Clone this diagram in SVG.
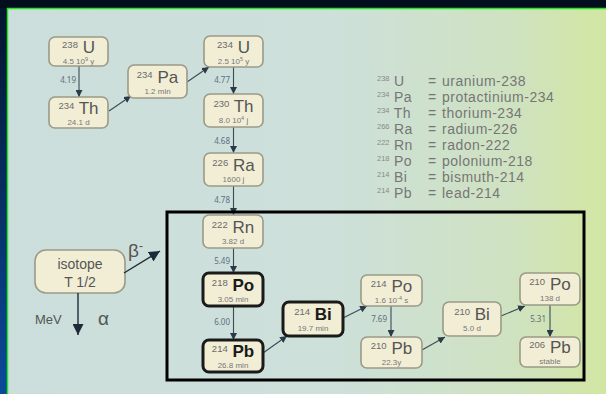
<svg xmlns="http://www.w3.org/2000/svg" width="606" height="394" viewBox="0 0 606 394">
<defs>
<linearGradient id="bg" x1="0" y1="0" x2="1" y2="0">
<stop offset="0" stop-color="#cbdedb"/>
<stop offset="0.55" stop-color="#cde0da"/>
<stop offset="0.85" stop-color="#cfe2c0"/>
<stop offset="1" stop-color="#d2e6a2"/>
</linearGradient>
<linearGradient id="side" x1="0" y1="0" x2="0" y2="1">
<stop offset="0" stop-color="#03132b"/>
<stop offset="1" stop-color="#0b4a9a"/>
</linearGradient>
<marker id="ah" viewBox="0 0 10 10" refX="10" refY="5" markerWidth="7" markerHeight="7" markerUnits="userSpaceOnUse" orient="auto">
<path d="M0,0 L10,5 L0,10 z" fill="#2b3a47"/>
</marker>
<marker id="ahL" viewBox="0 0 10 10" refX="10" refY="5" markerWidth="11" markerHeight="11" markerUnits="userSpaceOnUse" orient="auto">
<path d="M0,0 L10,5 L0,10 z" fill="#1f2a38"/>
</marker>
</defs>
<style>
.node rect{fill:#f2eed5;stroke:#9a9a88;stroke-width:1.6}
.node.bold rect{stroke:#1a1a1a;stroke-width:3}
text{font-family:"Noto Sans","Open Sans","Liberation Sans",sans-serif}
.node text{font-family:"Liberation Sans",Arial,sans-serif}
.t1{text-anchor:middle;fill:#555}
.sup{font-size:9.5px;fill:#6a6a6a}
.sym{font-size:17px;fill:#555}
.bold .sym{font-weight:bold;fill:#1a1a1a}
.t2{text-anchor:middle;font-size:8px;fill:#777}
.s2{font-size:5.5px}
.en{text-anchor:end;font-size:8px;fill:#5e6e82}
.conn line{stroke:#3c4a56;stroke-width:1.1;marker-end:url(#ah)}
.leg{font-family:"Liberation Sans",Arial,sans-serif;font-size:14px;fill:#767676;letter-spacing:0.5px}
.legs{font-size:7.5px;fill:#8a8a8a;letter-spacing:0}
</style>
<rect x="0" y="0" width="606" height="394" fill="url(#bg)"/>
<rect x="0" y="0" width="606" height="8" fill="#020e1e"/>
<rect x="0" y="0" width="7" height="394" fill="url(#side)"/>
<rect x="0" y="0" width="7" height="8" fill="#020e1e"/>
<line x1="7" y1="8.5" x2="606" y2="8.5" stroke="#22e622" stroke-width="1.5"/>
<line x1="7.5" y1="8" x2="7.5" y2="394" stroke="#22e622" stroke-width="1.5"/>

<g id="connectors" class="conn">
<line x1="79" y1="66" x2="79" y2="97"/>
<line x1="109" y1="111" x2="131" y2="96"/>
<line x1="187" y1="82" x2="209" y2="67"/>
<line x1="233.5" y1="67" x2="233.5" y2="94"/>
<line x1="233.5" y1="127" x2="233.5" y2="153"/>
<line x1="233.5" y1="186" x2="233.5" y2="215"/>
<line x1="233.5" y1="248" x2="233.5" y2="273"/>
<line x1="233.5" y1="306" x2="233.5" y2="340"/>
<line x1="263" y1="353" x2="287" y2="336"/>
<line x1="343" y1="318" x2="367" y2="306"/>
<line x1="391" y1="306" x2="391" y2="337"/>
<line x1="422" y1="350" x2="445" y2="337"/>
<line x1="501" y1="316" x2="525" y2="306"/>
<line x1="550" y1="305" x2="550" y2="337"/>
</g>

<g id="energies">
<text class="en" x="76" y="83">4.19</text>
<text class="en" x="230" y="83">4.77</text>
<text class="en" x="230" y="144">4.68</text>
<text class="en" x="230" y="203">4.78</text>
<text class="en" x="230" y="264">5.49</text>
<text class="en" x="230" y="325">6.00</text>
<text class="en" x="387" y="322">7.69</text>
<text class="en" x="546" y="322">5.31</text>
</g>

<g id="n-u238" class="node"><rect x="49" y="37" width="59" height="29" rx="6"/><text class="t1" x="78.5" y="52.5"><tspan class="sup" dy="-5">238</tspan><tspan class="sym" dy="5"> U</tspan></text><text class="t2" x="78.5" y="63.5">4.5  10<tspan class="s2" dy="-3">9</tspan><tspan dy="3"> y</tspan></text></g>
<g id="n-th234" class="node"><rect x="49" y="97" width="59" height="31" rx="6"/><text class="t1" x="78.5" y="113.5"><tspan class="sup" dy="-5">234</tspan><tspan class="sym" dy="5"> Th</tspan></text><text class="t2" x="78.5" y="124.5">24.1 d</text></g>
<g id="n-pa234" class="node"><rect x="128" y="65" width="59" height="33" rx="6"/><text class="t1" x="157.5" y="82.5"><tspan class="sup" dy="-5">234</tspan><tspan class="sym" dy="5"> Pa</tspan></text><text class="t2" x="157.5" y="93.5">1.2 min</text></g>
<g id="n-u234" class="node"><rect x="204" y="36" width="59" height="31" rx="6"/><text class="t1" x="233.5" y="52.5"><tspan class="sup" dy="-5">234</tspan><tspan class="sym" dy="5"> U</tspan></text><text class="t2" x="233.5" y="63.5">2.5  10<tspan class="s2" dy="-3">5</tspan><tspan dy="3"> y</tspan></text></g>
<g id="n-th230" class="node"><rect x="204" y="94" width="59" height="33" rx="6"/><text class="t1" x="233.5" y="111.5"><tspan class="sup" dy="-5">230</tspan><tspan class="sym" dy="5"> Th</tspan></text><text class="t2" x="233.5" y="122.5">8.0  10<tspan class="s2" dy="-3">4</tspan><tspan dy="3"> j</tspan></text></g>
<g id="n-ra226" class="node"><rect x="204" y="153" width="59" height="33" rx="6"/><text class="t1" x="233.5" y="170.5"><tspan class="sup" dy="-5">226</tspan><tspan class="sym" dy="5"> Ra</tspan></text><text class="t2" x="233.5" y="181.5">1600 j</text></g>
<g id="n-rn222" class="node"><rect x="203" y="215" width="60" height="33" rx="6"/><text class="t1" x="233" y="232.5"><tspan class="sup" dy="-5">222</tspan><tspan class="sym" dy="5"> Rn</tspan></text><text class="t2" x="233" y="243.5">3.82 d</text></g>
<g id="n-po218" class="node bold"><rect x="203" y="273" width="60" height="33" rx="6"/><text class="t1" x="233" y="290.5"><tspan class="sup" dy="-5">218</tspan><tspan class="sym" dy="5"> Po</tspan></text><text class="t2" x="233" y="301.5">3.05 min</text></g>
<g id="n-pb214" class="node bold"><rect x="203" y="340" width="60" height="32" rx="6"/><text class="t1" x="233" y="357"><tspan class="sup" dy="-5">214</tspan><tspan class="sym" dy="5"> Pb</tspan></text><text class="t2" x="233" y="368">26.8 min</text></g>
<g id="n-bi214" class="node bold"><rect x="283" y="302" width="60" height="34" rx="6"/><text class="t1" x="313" y="320"><tspan class="sup" dy="-5">214</tspan><tspan class="sym" dy="5"> Bi</tspan></text><text class="t2" x="313" y="331">19.7 min</text></g>
<g id="n-po214" class="node"><rect x="361" y="275" width="61" height="31" rx="6"/><text class="t1" x="391.5" y="291.5"><tspan class="sup" dy="-5">214</tspan><tspan class="sym" dy="5"> Po</tspan></text><text class="t2" x="391.5" y="302.5">1.6  10<tspan class="s2" dy="-3">-4</tspan><tspan dy="3"> s</tspan></text></g>
<g id="n-pb210" class="node"><rect x="361" y="337" width="61" height="31" rx="6"/><text class="t1" x="391.5" y="353.5"><tspan class="sup" dy="-5">210</tspan><tspan class="sym" dy="5"> Pb</tspan></text><text class="t2" x="391.5" y="364.5">22.3y</text></g>
<g id="n-bi210" class="node"><rect x="443" y="302" width="58" height="34" rx="6"/><text class="t1" x="472" y="320"><tspan class="sup" dy="-5">210</tspan><tspan class="sym" dy="5"> Bi</tspan></text><text class="t2" x="472" y="331">5.0 d</text></g>
<g id="n-po210" class="node"><rect x="520" y="273" width="60" height="32" rx="6"/><text class="t1" x="550" y="290"><tspan class="sup" dy="-5">210</tspan><tspan class="sym" dy="5"> Po</tspan></text><text class="t2" x="550" y="301">138 d</text></g>
<g id="n-pb206" class="node"><rect x="520" y="337" width="60" height="30" rx="6"/><text class="t1" x="550" y="353"><tspan class="sup" dy="-5">206</tspan><tspan class="sym" dy="5"> Pb</tspan></text><text class="t2" x="550" y="364">stable</text></g>

<g id="legend-key" class="node">
<rect x="35" y="250" width="90" height="43" rx="11"/>
<text x="80" y="269" text-anchor="middle" font-size="14" fill="#555">isotope</text>
<text x="80" y="287" text-anchor="middle" font-size="14" fill="#555">T 1/2</text>
<line x1="78" y1="293" x2="78" y2="335" stroke="#1f2a38" stroke-width="1.4" marker-end="url(#ahL)"/>
<line x1="124" y1="273" x2="160" y2="251" stroke="#1f2a38" stroke-width="1.4" marker-end="url(#ahL)"/>
<text x="35" y="324" font-size="13" fill="#555">MeV</text>
<text x="98" y="325" font-size="19" fill="#555" font-family="'Liberation Serif',serif">α</text>
<text x="128" y="257" font-size="19" fill="#555" font-family="'Liberation Serif',serif">β<tspan font-size="12" dy="-7">-</tspan></text>
</g>

<g id="legend-names">
<text class="leg" x="377" y="86"><tspan class="legs" dy="-5">238</tspan><tspan dy="5"> U</tspan></text><text class="leg" x="428" y="86">=</text><text class="leg" x="442" y="86">uranium-238</text>
<text class="leg" x="377" y="102"><tspan class="legs" dy="-5">234</tspan><tspan dy="5"> Pa</tspan></text><text class="leg" x="428" y="102">=</text><text class="leg" x="442" y="102">protactinium-234</text>
<text class="leg" x="377" y="118"><tspan class="legs" dy="-5">234</tspan><tspan dy="5"> Th</tspan></text><text class="leg" x="428" y="118">=</text><text class="leg" x="442" y="118">thorium-234</text>
<text class="leg" x="377" y="134"><tspan class="legs" dy="-5">266</tspan><tspan dy="5"> Ra</tspan></text><text class="leg" x="428" y="134">=</text><text class="leg" x="442" y="134">radium-226</text>
<text class="leg" x="377" y="150"><tspan class="legs" dy="-5">222</tspan><tspan dy="5"> Rn</tspan></text><text class="leg" x="428" y="150">=</text><text class="leg" x="442" y="150">radon-222</text>
<text class="leg" x="377" y="166"><tspan class="legs" dy="-5">218</tspan><tspan dy="5"> Po</tspan></text><text class="leg" x="428" y="166">=</text><text class="leg" x="442" y="166">polonium-218</text>
<text class="leg" x="377" y="182"><tspan class="legs" dy="-5">214</tspan><tspan dy="5"> Bi</tspan></text><text class="leg" x="428" y="182">=</text><text class="leg" x="442" y="182">bismuth-214</text>
<text class="leg" x="377" y="198"><tspan class="legs" dy="-5">214</tspan><tspan dy="5"> Pb</tspan></text><text class="leg" x="428" y="198">=</text><text class="leg" x="442" y="198">lead-214</text>
</g>

<rect id="frame" x="167" y="212" width="417" height="168" fill="none" stroke="#000" stroke-width="3"/>
</svg>
